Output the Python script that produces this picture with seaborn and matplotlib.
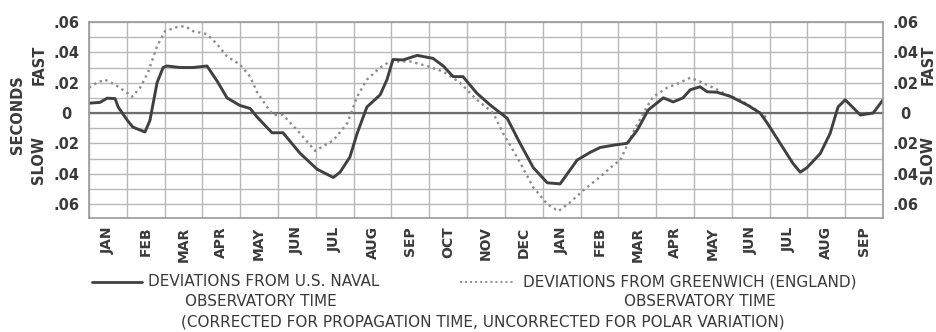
import matplotlib
matplotlib.use("Agg")
import matplotlib.pyplot as plt
from matplotlib.lines import Line2D
import numpy as np
import pandas as pd
import seaborn as sns

# Month axis: 21 months, January of the first year through September of the next
month_labels = ["JAN", "FEB", "MAR", "APR", "MAY", "JUN", "JUL", "AUG", "SEP",
                "OCT", "NOV", "DEC",
                "JAN", "FEB", "MAR", "APR", "MAY", "JUN", "JUL", "AUG", "SEP"]

# Deviations from U.S. Naval Observatory time (seconds, + = fast), time in months
usno_month = [0.00, 0.29, 0.48, 0.69, 0.77, 1.01, 1.16, 1.48, 1.61, 1.80,
              1.96, 2.06, 2.41, 2.75, 3.12, 3.39, 3.65, 3.99, 4.26, 4.44,
              4.84, 5.13, 5.58, 6.03, 6.46, 6.64, 6.90, 7.09, 7.35, 7.70,
              7.88, 8.04, 8.31, 8.68, 9.10, 9.37, 9.63, 9.89, 10.26, 10.61,
              11.06, 11.40, 11.75, 12.12, 12.46, 12.91, 13.25, 13.52, 13.92, 14.23,
              14.50, 14.79, 15.19, 15.45, 15.71, 15.90, 16.16, 16.35, 16.61, 16.96,
              17.41, 17.75, 17.94, 18.28, 18.62, 18.81, 18.99, 19.34, 19.60, 19.81,
              20.00, 20.19, 20.40, 20.74, 21.00]
usno_dev = [0.0065, 0.0070, 0.0098, 0.0095, 0.0040, -0.0047, -0.0093, -0.0125, -0.0050, 0.0200,
            0.0300, 0.0310, 0.0300, 0.0300, 0.0310, 0.0210, 0.0100, 0.0050, 0.0030, -0.0025,
            -0.0130, -0.0130, -0.0265, -0.0370, -0.0425, -0.0390, -0.0290, -0.0135, 0.0040, 0.0120,
            0.0220, 0.0353, 0.0350, 0.0380, 0.0360, 0.0310, 0.0240, 0.0240, 0.0130, 0.0053,
            -0.0035, -0.0200, -0.0360, -0.0460, -0.0467, -0.0310, -0.0260, -0.0227, -0.0210, -0.0200,
            -0.0113, 0.0020, 0.0100, 0.0073, 0.0100, 0.0153, 0.0173, 0.0140, 0.0137, 0.0110,
            0.0053, 0.0000, -0.0067, -0.0200, -0.0333, -0.0390, -0.0360, -0.0267, -0.0135, 0.0040,
            0.0087, 0.0040, -0.0013, 0.0000, 0.0087]

# Deviations from Greenwich (England) observatory time
gw_month = [0.00, 0.21, 0.42, 0.69, 1.01, 1.14, 1.35, 1.56, 1.80, 2.01,
            2.33, 2.54, 2.75, 3.12, 3.39, 3.65, 3.99, 4.26, 4.44, 4.71,
            4.87, 5.13, 5.58, 5.98, 6.46, 6.83, 7.09, 7.35, 7.70, 7.96,
            8.49, 8.94, 9.37, 9.81, 10.26, 10.69, 10.95, 11.32, 11.75, 12.12,
            12.41, 12.72, 13.07, 13.52, 13.92, 14.05, 14.39, 14.66, 14.92, 15.29,
            15.63, 15.90, 16.16, 16.51, 16.88, 17.22, 17.57, 17.94]
gw_dev = [0.0167, 0.0200, 0.0220, 0.0187, 0.0133, 0.0107, 0.0167, 0.0267, 0.0440, 0.0540,
          0.0567, 0.0573, 0.0540, 0.0520, 0.0453, 0.0373, 0.0320, 0.0240, 0.0140, 0.0040,
          -0.0013, -0.0013, -0.0133, -0.0250, -0.0180, -0.0067, 0.0107, 0.0220, 0.0300, 0.0340,
          0.0340, 0.0310, 0.0273, 0.0200, 0.0087, 0.0000, -0.0133, -0.0290, -0.0490, -0.0600,
          -0.0647, -0.0590, -0.0510, -0.0420, -0.0333, -0.0313, -0.0127, 0.0000, 0.0107, 0.0167,
          0.0200, 0.0233, 0.0207, 0.0167, 0.0120, 0.0087, 0.0033, -0.0033]

y_ticks = [0.06, 0.04, 0.02, 0.0, -0.02, -0.04, -0.06]
y_tick_labels = [".06", ".04", ".02", "0", ".02", ".04", ".06"]

usno = pd.DataFrame({"month": usno_month, "dev": usno_dev})
gw = pd.DataFrame({"month": gw_month, "dev": gw_dev})

sns.set_style("white")
plt.rcParams["font.family"] = ["DejaVu Sans"]

ink = "#3a3a3a"
grid_c = "#b8b8b8"

fig = plt.figure(figsize=(9.37, 3.32), dpi=100)
ax = fig.add_axes([0.095, 0.3434, 0.8474, 0.5903])

sns.lineplot(data=gw, x="month", y="dev", ax=ax, color="#8c8c8c",
             linestyle=(0, (1, 1.6)), linewidth=1.7, estimator=None, sort=False)
sns.lineplot(data=usno, x="month", y="dev", ax=ax, color="#404040",
             linewidth=2.1, estimator=None, sort=False)

n = len(month_labels)
ax.set_xlim(0, n)
ax.set_ylim(-0.0692, 0.06)

# month names centred in each month, grid on month boundaries
ax.set_xticks(np.arange(n) + 0.5)
ax.set_xticklabels(month_labels, rotation=90, fontsize=10, fontweight="bold", color=ink)
ax.set_xticks(np.arange(0, n + 1), minor=True)

ax.set_yticks(y_ticks)
ax.set_yticklabels(y_tick_labels, fontsize=10.5, fontweight="bold", color=ink)
ax.set_yticks(np.arange(-0.05, 0.06, 0.02), minor=True)

ax.grid(False)
ax.grid(True, which="minor", axis="x", color=grid_c, linewidth=1.0)
ax.grid(True, which="both", axis="y", color=grid_c, linewidth=1.0)
ax.axhline(0, color="#6e6e6e", linewidth=1.6, zorder=1.5)

ax.tick_params(axis="x", which="both", length=0, pad=6)
ax.tick_params(axis="y", which="both", length=0, labelright=True, labelleft=True)
ax.tick_params(axis="y", which="major", pad=0)
for t in ax.yaxis.get_major_ticks():
    t.label1.set_horizontalalignment("center")
    t.label2.set_horizontalalignment("center")
    t.label2.set_fontweight("bold")
    t.label2.set_fontsize(10.5)
    t.label2.set_color(ink)
ax.yaxis.set_tick_params(which="major", pad=16)
ax.set_xlabel("")
ax.set_ylabel("")

for s in ax.spines.values():
    s.set_color("#9a9a9a")
    s.set_linewidth(1.2)

# side captions
fig.text(18 / 937, 1 - 115 / 332, "SECONDS", rotation=90, ha="center", va="center",
         fontsize=10.5, fontweight="bold", color=ink)
for xpx in (39, 928):
    fig.text(xpx / 937, 1 - 65 / 332, "FAST", rotation=90, ha="center", va="center",
             fontsize=10.5, fontweight="bold", color=ink)
    fig.text(xpx / 937, 1 - 160 / 332, "SLOW", rotation=90, ha="center", va="center",
             fontsize=10.5, fontweight="bold", color=ink)

# key below the chart
y1 = 1 - 282 / 332
y2 = 1 - 302 / 332
y3 = 1 - 322 / 332
fig.add_artist(Line2D([92 / 937, 142 / 937], [y1, y1], color="#404040", linewidth=2.0))
fig.text(148 / 937, y1, "DEVIATIONS FROM U.S. NAVAL", ha="left", va="center",
         fontsize=11, color=ink)
fig.text(261 / 937, y2, "OBSERVATORY TIME", ha="center", va="center", fontsize=11, color=ink)
fig.add_artist(Line2D([460 / 937, 513 / 937], [y1, y1], color="#8c8c8c",
                      linewidth=1.4, linestyle=(0, (1, 1.6))))
fig.text(523 / 937, y1, "DEVIATIONS FROM GREENWICH (ENGLAND)", ha="left", va="center",
         fontsize=11, color=ink)
fig.text(700 / 937, y2, "OBSERVATORY TIME", ha="center", va="center", fontsize=11, color=ink)
fig.text(483 / 937, y3, "(CORRECTED FOR PROPAGATION TIME, UNCORRECTED FOR POLAR VARIATION)",
         ha="center", va="center", fontsize=11, color=ink)

fig.savefig("out.png", dpi=100)
